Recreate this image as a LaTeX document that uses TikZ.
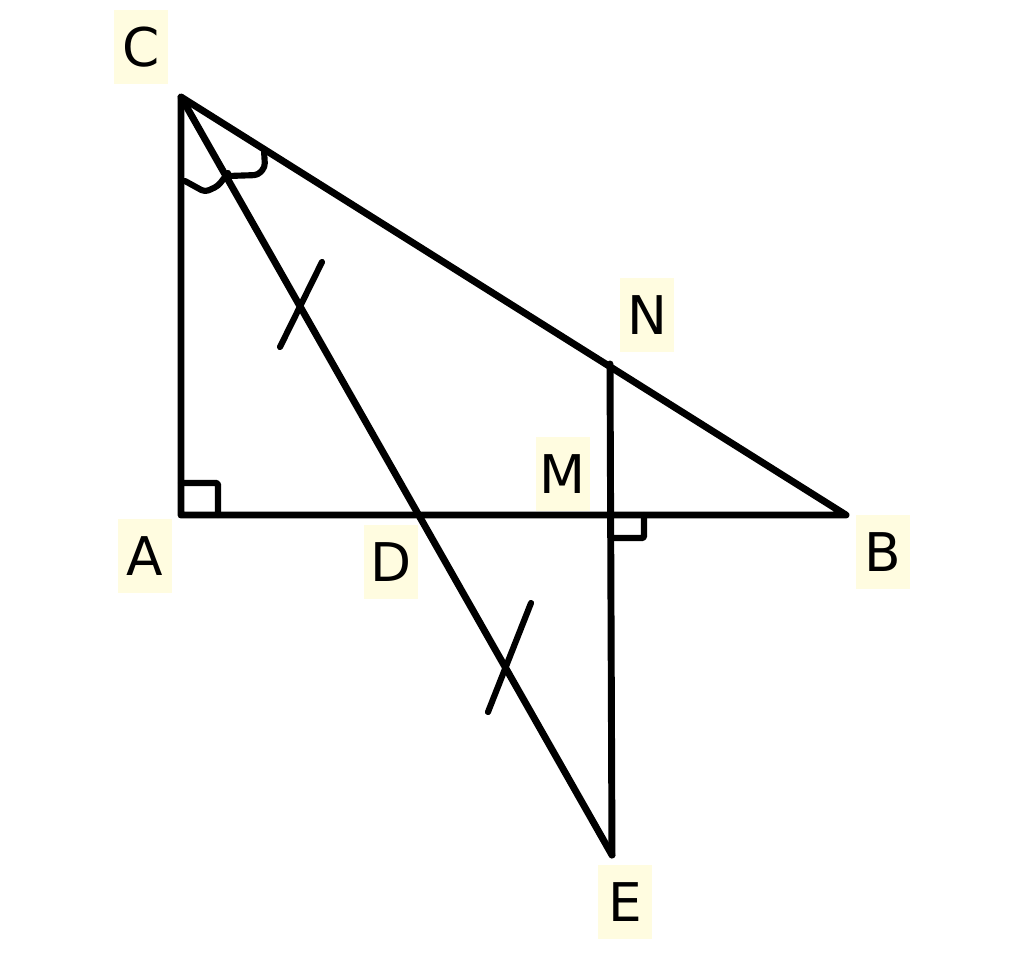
\documentclass[tikz,border=0pt]{standalone}
\usepackage{fontspec}
\setmainfont{DejaVu Sans}
\usepackage{tikz}
\usetikzlibrary{calc}
\definecolor{lblbg}{RGB}{255,252,224}

\tikzset{
  lbl/.style={fill=lblbg,inner sep=0pt,minimum width=40pt,minimum height=55pt,
    font=\fontsize{40}{48}\selectfont},
  seg/.style={line width=5.2pt,line cap=round,line join=round},
  mrk/.style={line width=4.6pt,line cap=round,line join=round,rounded corners=3pt}
}

\begin{document}
\begin{tikzpicture}[x=0.75pt,y=0.75pt,yscale=-1,xscale=1]
\useasboundingbox (0,0) rectangle (1024,957);

% Points
\coordinate (C) at (181,97);
\coordinate (A) at (181,515);
\coordinate (B) at (846,515);
\coordinate (E) at (612,855);
\coordinate (M) at (610,515);
\coordinate (N) at (610,364);
\coordinate (D) at (420,515);

%Straight Lines
\draw [seg] (A) -- (C) -- (B) -- cycle;
\draw [seg] (C) -- (E);
\draw [seg] (N) -- (E);

%Equal segment ticks
\draw [mrk] (280,347) -- (322,262);
\draw [mrk] (488,712) -- (531,603);

%Angle marks at C
\draw [mrk] (185,181) -- (205,192) -- (218,186) -- (228,173);
\draw [mrk] (228,176) -- (258,175) -- (265,167) -- (264,150);

%Right angles
\draw [mrk,rounded corners=1pt] (181,483) -- (218,483) -- (218,515);
\draw [mrk,rounded corners=1pt] (612,538) -- (644,538) -- (644,515);

% Text Node
\node [lbl] (lC) at (141,47) {C};
\node [lbl] (lN) at (647,315) {N};
\node [lbl] (lM) at (563,474) {M};
\node [lbl] (lA) at (145,556) {A};
\node [lbl] (lD) at (391,562) {D};
\node [lbl] (lB) at (883,552) {B};
\node [lbl] (lE) at (625,902) {E};
\end{tikzpicture}
\end{document}
